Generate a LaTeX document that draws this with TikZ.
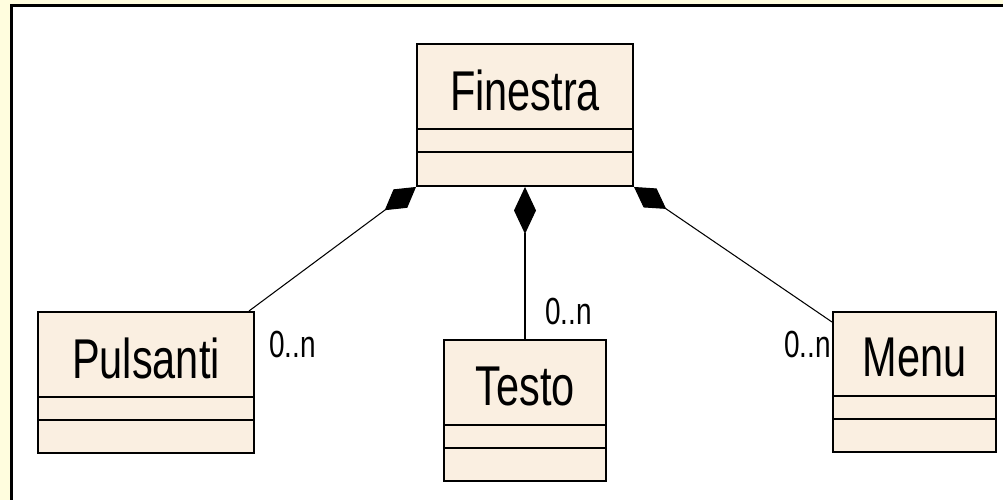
\documentclass[tikz,border=0pt]{standalone}
\usepackage{fontspec}
\newfontfamily\umlfont[FakeStretch=0.74]{Liberation Sans}
\usetikzlibrary{arrows.meta,calc,positioning}

\definecolor{paper}{RGB}{255,253,222}
\definecolor{classfill}{RGB}{250,239,225}

\begin{document}
\begin{tikzpicture}[
    classbox/.style={draw=black, line width=1.1pt, fill=classfill, inner sep=0pt},
    classname/.style={font=\umlfont\fontsize{31.9}{36}\selectfont},
    mult/.style={font=\umlfont\fontsize{21.5}{24}\selectfont, inner sep=0pt},
    assoc/.style={line width=0.6pt},
    compose/.style={assoc, {Diamond[length=0.94cm,width=0.44cm]}-},
    sidecompose/.style={assoc, {Diamond[length=0.78cm,width=0.46cm]}-},
  ]
  \useasboundingbox (0,0) rectangle (20.06,10);
  % page and window frame
  \fill[paper] (0,0) rectangle (20.06,10);
  \fill[white] (0.226,0) rectangle (20.06,9.894);
  \draw[line width=1.5pt] (0.226,0) -- (0.226,9.894) -- (20.06,9.894);

  % classes
  \node[classbox, minimum width=4.32cm, minimum height=2.84cm] (fin) at (10.5,7.7) {};
  \node[classbox, minimum width=4.32cm, minimum height=2.82cm] (pul) at (2.92,2.35) {};
  \node[classbox, minimum width=3.24cm, minimum height=2.82cm] (tes) at (10.5,1.79) {};
  \node[classbox, minimum width=3.26cm, minimum height=2.80cm] (menu) at (18.29,2.36) {};

  % name, attributes and operations compartments
  \foreach \c/\t in {fin/Finestra, pul/Pulsanti, tes/Testo, menu/Menu} {
    \node[classname] at ($(\c.north)!0.33!(\c.south)$) {\t};
    \draw[line width=1.1pt] ($(\c.north west)!0.6!(\c.south west)$) -- ($(\c.north east)!0.6!(\c.south east)$);
    \draw[line width=1.1pt] ($(\c.north west)!0.76!(\c.south west)$) -- ($(\c.north east)!0.76!(\c.south east)$);
  }

  % compositions
  \draw[sidecompose] (fin.south west) -- ([xshift=-0.12cm]pul.north east);
  \draw[compose] (fin.south) -- (tes.north);
  \draw[sidecompose] (fin.south east) -- ([yshift=-0.22cm]menu.north west);

  % multiplicities
  \node[mult, anchor=west] (mpul) at ([shift={(0.28,-0.66)}]pul.north east) {0..n};
  \node[mult, anchor=west] (mtes) at ([shift={(0.4,0.56)}]tes.north) {0..n};
  \node[mult, anchor=east] (mmenu) at ([shift={(-0.02,-0.66)}]menu.north west) {0..n};
\end{tikzpicture}
\end{document}
